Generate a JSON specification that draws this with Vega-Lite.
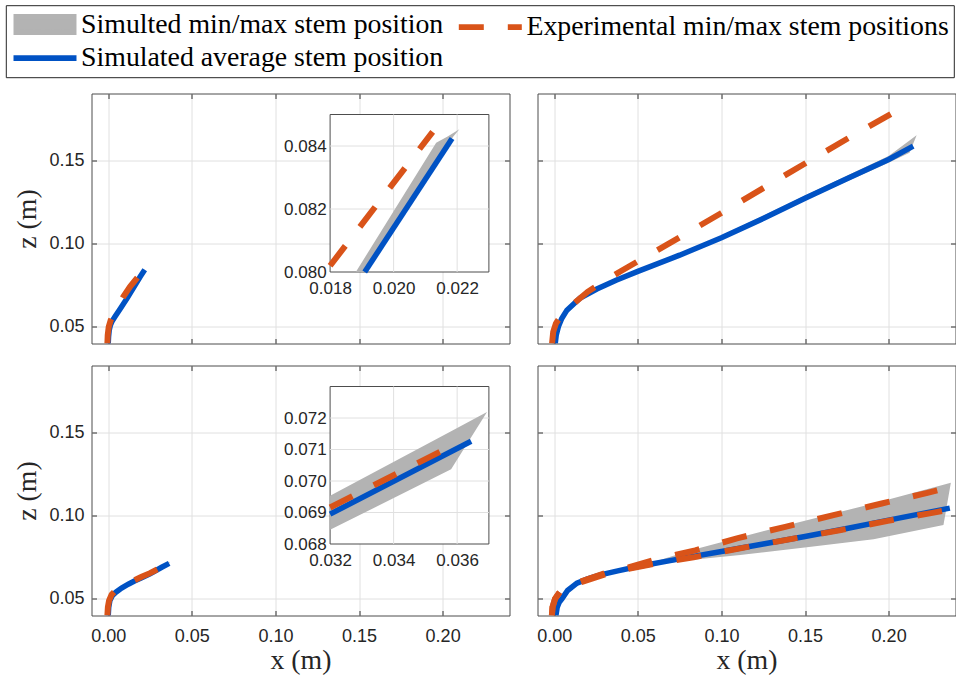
{
"$schema": "https://vega.github.io/schema/vega-lite/v6.json",
"background": "white",
"padding": {"left": 4.5, "top": 4.5, "right": 0, "bottom": 0},
"autosize": {"type": "pad"},
"config": {
  "view": {"stroke": "#4d4d4d", "strokeWidth": 1},
  "axis": {"domain": false, "grid": true, "gridColor": "#e0e0e0", "gridWidth": 1, "labelFont": "Liberation Sans", "labelFontSize": 18, "labelColor": "#262626", "labelFlush": false, "labelOverlap": false, "titleFont": "Liberation Serif", "titleFontSize": 27.8, "titleFontWeight": "normal", "titleColor": "#262626", "ticks": true, "tickSize": -5, "tickColor": "#333333", "tickWidth": 1, "zindex": 0},
  "axisX": {"labelPadding": 17, "titlePadding": 1},
  "axisY": {"labelPadding": 12.4, "titlePadding": 8}
},
"datasets": {
"lines": [
{"p":"a","k":"avg","s":"Simulated average stem position","x":0.0000,"z":0.0400},
{"p":"a","k":"avg","s":"Simulated average stem position","x":0.0002,"z":0.0440},
{"p":"a","k":"avg","s":"Simulated average stem position","x":0.0006,"z":0.0480},
{"p":"a","k":"avg","s":"Simulated average stem position","x":0.0013,"z":0.0510},
{"p":"a","k":"avg","s":"Simulated average stem position","x":0.0024,"z":0.0535},
{"p":"a","k":"avg","s":"Simulated average stem position","x":0.0040,"z":0.0560},
{"p":"a","k":"avg","s":"Simulated average stem position","x":0.0070,"z":0.0605},
{"p":"a","k":"avg","s":"Simulated average stem position","x":0.0110,"z":0.0667},
{"p":"a","k":"avg","s":"Simulated average stem position","x":0.0150,"z":0.0732},
{"p":"a","k":"avg","s":"Simulated average stem position","x":0.01909,"z":0.0800},
{"p":"a","k":"avg","s":"Simulated average stem position","x":0.02184,"z":0.08424},
{"p":"a","k":"max","s":"Experimental min/max stem positions","x":-0.0005,"z":0.0400},
{"p":"a","k":"max","s":"Experimental min/max stem positions","x":-0.0003,"z":0.0450},
{"p":"a","k":"max","s":"Experimental min/max stem positions","x":0.0003,"z":0.0500},
{"p":"a","k":"max","s":"Experimental min/max stem positions","x":0.0015,"z":0.0540},
{"p":"a","k":"max","s":"Experimental min/max stem positions","x":0.0035,"z":0.0580},
{"p":"a","k":"max","s":"Experimental min/max stem positions","x":0.0060,"z":0.0625},
{"p":"a","k":"max","s":"Experimental min/max stem positions","x":0.0090,"z":0.0680},
{"p":"a","k":"max","s":"Experimental min/max stem positions","x":0.0130,"z":0.0740},
{"p":"a","k":"max","s":"Experimental min/max stem positions","x":0.0180,"z":0.0802},
{"p":"a","k":"max","s":"Experimental min/max stem positions","x":0.02123,"z":0.08445},
{"p":"b","k":"avg","s":"Simulated average stem position","x":0.0006,"z":0.0400},
{"p":"b","k":"avg","s":"Simulated average stem position","x":0.0012,"z":0.0450},
{"p":"b","k":"avg","s":"Simulated average stem position","x":0.0026,"z":0.0504},
{"p":"b","k":"avg","s":"Simulated average stem position","x":0.0045,"z":0.0550},
{"p":"b","k":"avg","s":"Simulated average stem position","x":0.0076,"z":0.0600},
{"p":"b","k":"avg","s":"Simulated average stem position","x":0.0155,"z":0.0673},
{"p":"b","k":"avg","s":"Simulated average stem position","x":0.0255,"z":0.0727},
{"p":"b","k":"avg","s":"Simulated average stem position","x":0.0370,"z":0.0780},
{"p":"b","k":"avg","s":"Simulated average stem position","x":0.0500,"z":0.0833},
{"p":"b","k":"avg","s":"Simulated average stem position","x":0.0750,"z":0.0930},
{"p":"b","k":"avg","s":"Simulated average stem position","x":0.1000,"z":0.1035},
{"p":"b","k":"avg","s":"Simulated average stem position","x":0.1250,"z":0.1150},
{"p":"b","k":"avg","s":"Simulated average stem position","x":0.1500,"z":0.1271},
{"p":"b","k":"avg","s":"Simulated average stem position","x":0.1750,"z":0.1388},
{"p":"b","k":"avg","s":"Simulated average stem position","x":0.2000,"z":0.1504},
{"p":"b","k":"avg","s":"Simulated average stem position","x":0.2147,"z":0.1584},
{"p":"b","k":"max","s":"Experimental min/max stem positions","x":-0.0013,"z":0.0400},
{"p":"b","k":"max","s":"Experimental min/max stem positions","x":-0.0006,"z":0.0470},
{"p":"b","k":"max","s":"Experimental min/max stem positions","x":0.0010,"z":0.0520},
{"p":"b","k":"max","s":"Experimental min/max stem positions","x":0.0040,"z":0.0565},
{"p":"b","k":"max","s":"Experimental min/max stem positions","x":0.0100,"z":0.0625},
{"p":"b","k":"max","s":"Experimental min/max stem positions","x":0.0200,"z":0.0710},
{"p":"b","k":"max","s":"Experimental min/max stem positions","x":0.0300,"z":0.0775},
{"p":"b","k":"max","s":"Experimental min/max stem positions","x":0.0400,"z":0.0835},
{"p":"b","k":"max","s":"Experimental min/max stem positions","x":0.0500,"z":0.0893},
{"p":"b","k":"max","s":"Experimental min/max stem positions","x":0.0750,"z":0.1037},
{"p":"b","k":"max","s":"Experimental min/max stem positions","x":0.1000,"z":0.1183},
{"p":"b","k":"max","s":"Experimental min/max stem positions","x":0.1250,"z":0.1332},
{"p":"b","k":"max","s":"Experimental min/max stem positions","x":0.1500,"z":0.1480},
{"p":"b","k":"max","s":"Experimental min/max stem positions","x":0.1750,"z":0.1627},
{"p":"b","k":"max","s":"Experimental min/max stem positions","x":0.2036,"z":0.1790},
{"p":"c","k":"avg","s":"Simulated average stem position","x":0.0000,"z":0.0400},
{"p":"c","k":"avg","s":"Simulated average stem position","x":0.0003,"z":0.0450},
{"p":"c","k":"avg","s":"Simulated average stem position","x":0.0010,"z":0.0490},
{"p":"c","k":"avg","s":"Simulated average stem position","x":0.0025,"z":0.0520},
{"p":"c","k":"avg","s":"Simulated average stem position","x":0.0046,"z":0.0540},
{"p":"c","k":"avg","s":"Simulated average stem position","x":0.0080,"z":0.0565},
{"p":"c","k":"avg","s":"Simulated average stem position","x":0.0120,"z":0.0588},
{"p":"c","k":"avg","s":"Simulated average stem position","x":0.0160,"z":0.0608},
{"p":"c","k":"avg","s":"Simulated average stem position","x":0.0200,"z":0.0627},
{"p":"c","k":"avg","s":"Simulated average stem position","x":0.0250,"z":0.0650},
{"p":"c","k":"avg","s":"Simulated average stem position","x":0.0320,"z":0.06895},
{"p":"c","k":"avg","s":"Simulated average stem position","x":0.03644,"z":0.07126},
{"p":"c","k":"max","s":"Experimental min/max stem positions","x":-0.0005,"z":0.0400},
{"p":"c","k":"max","s":"Experimental min/max stem positions","x":-0.0002,"z":0.0450},
{"p":"c","k":"max","s":"Experimental min/max stem positions","x":0.0005,"z":0.0490},
{"p":"c","k":"max","s":"Experimental min/max stem positions","x":0.0020,"z":0.0525},
{"p":"c","k":"max","s":"Experimental min/max stem positions","x":0.0040,"z":0.0545},
{"p":"c","k":"max","s":"Experimental min/max stem positions","x":0.0080,"z":0.0572},
{"p":"c","k":"max","s":"Experimental min/max stem positions","x":0.0120,"z":0.0594},
{"p":"c","k":"max","s":"Experimental min/max stem positions","x":0.0160,"z":0.0613},
{"p":"c","k":"max","s":"Experimental min/max stem positions","x":0.0200,"z":0.0632},
{"p":"c","k":"max","s":"Experimental min/max stem positions","x":0.0250,"z":0.0654},
{"p":"c","k":"max","s":"Experimental min/max stem positions","x":0.0320,"z":0.06916},
{"p":"c","k":"max","s":"Experimental min/max stem positions","x":0.0355,"z":0.07095},
{"p":"d","k":"avg","s":"Simulated average stem position","x":0.0010,"z":0.0400},
{"p":"d","k":"avg","s":"Simulated average stem position","x":0.0018,"z":0.0450},
{"p":"d","k":"avg","s":"Simulated average stem position","x":0.0030,"z":0.0480},
{"p":"d","k":"avg","s":"Simulated average stem position","x":0.0046,"z":0.0500},
{"p":"d","k":"avg","s":"Simulated average stem position","x":0.0080,"z":0.0550},
{"p":"d","k":"avg","s":"Simulated average stem position","x":0.0136,"z":0.0594},
{"p":"d","k":"avg","s":"Simulated average stem position","x":0.0200,"z":0.0620},
{"p":"d","k":"avg","s":"Simulated average stem position","x":0.0276,"z":0.0644},
{"p":"d","k":"avg","s":"Simulated average stem position","x":0.0380,"z":0.0668},
{"p":"d","k":"avg","s":"Simulated average stem position","x":0.0500,"z":0.0694},
{"p":"d","k":"avg","s":"Simulated average stem position","x":0.0750,"z":0.0740},
{"p":"d","k":"avg","s":"Simulated average stem position","x":0.1000,"z":0.0784},
{"p":"d","k":"avg","s":"Simulated average stem position","x":0.1250,"z":0.0829},
{"p":"d","k":"avg","s":"Simulated average stem position","x":0.1500,"z":0.0874},
{"p":"d","k":"avg","s":"Simulated average stem position","x":0.1750,"z":0.0922},
{"p":"d","k":"avg","s":"Simulated average stem position","x":0.2000,"z":0.0972},
{"p":"d","k":"avg","s":"Simulated average stem position","x":0.2366,"z":0.1044},
{"p":"d","k":"max","s":"Experimental min/max stem positions","x":-0.0014,"z":0.0400},
{"p":"d","k":"max","s":"Experimental min/max stem positions","x":-0.0010,"z":0.0450},
{"p":"d","k":"max","s":"Experimental min/max stem positions","x":0.0005,"z":0.0500},
{"p":"d","k":"max","s":"Experimental min/max stem positions","x":0.0036,"z":0.0544},
{"p":"d","k":"max","s":"Experimental min/max stem positions","x":0.0100,"z":0.0580},
{"p":"d","k":"max","s":"Experimental min/max stem positions","x":0.0166,"z":0.0606},
{"p":"d","k":"max","s":"Experimental min/max stem positions","x":0.0310,"z":0.0656},
{"p":"d","k":"max","s":"Experimental min/max stem positions","x":0.0444,"z":0.0688},
{"p":"d","k":"max","s":"Experimental min/max stem positions","x":0.0604,"z":0.0735},
{"p":"d","k":"max","s":"Experimental min/max stem positions","x":0.0843,"z":0.0791},
{"p":"d","k":"max","s":"Experimental min/max stem positions","x":0.1093,"z":0.0863},
{"p":"d","k":"max","s":"Experimental min/max stem positions","x":0.1382,"z":0.0932},
{"p":"d","k":"max","s":"Experimental min/max stem positions","x":0.1670,"z":0.1002},
{"p":"d","k":"max","s":"Experimental min/max stem positions","x":0.1959,"z":0.1072},
{"p":"d","k":"max","s":"Experimental min/max stem positions","x":0.2232,"z":0.1136},
{"p":"d","k":"max","s":"Experimental min/max stem positions","x":0.2296,"z":0.1152},
{"p":"d","k":"min","s":"Experimental min/max stem positions","x":-0.0014,"z":0.0400},
{"p":"d","k":"min","s":"Experimental min/max stem positions","x":-0.0010,"z":0.0450},
{"p":"d","k":"min","s":"Experimental min/max stem positions","x":0.0005,"z":0.0500},
{"p":"d","k":"min","s":"Experimental min/max stem positions","x":0.0036,"z":0.0544},
{"p":"d","k":"min","s":"Experimental min/max stem positions","x":0.0100,"z":0.0577},
{"p":"d","k":"min","s":"Experimental min/max stem positions","x":0.0166,"z":0.0601},
{"p":"d","k":"min","s":"Experimental min/max stem positions","x":0.0310,"z":0.0649},
{"p":"d","k":"min","s":"Experimental min/max stem positions","x":0.0444,"z":0.0680},
{"p":"d","k":"min","s":"Experimental min/max stem positions","x":0.0604,"z":0.0712},
{"p":"d","k":"min","s":"Experimental min/max stem positions","x":0.0833,"z":0.0749},
{"p":"d","k":"min","s":"Experimental min/max stem positions","x":0.1112,"z":0.0803},
{"p":"d","k":"min","s":"Experimental min/max stem positions","x":0.1406,"z":0.0857},
{"p":"d","k":"min","s":"Experimental min/max stem positions","x":0.1706,"z":0.0911},
{"p":"d","k":"min","s":"Experimental min/max stem positions","x":0.1995,"z":0.0968},
{"p":"d","k":"min","s":"Experimental min/max stem positions","x":0.2262,"z":0.1016},
{"p":"d","k":"min","s":"Experimental min/max stem positions","x":0.2326,"z":0.1028}
],
"band": [
{"p":"a","s":"Simulted min/max stem position","z":0.0400,"lo":-0.0002,"hi":0.0000},
{"p":"a","s":"Simulted min/max stem position","z":0.0480,"lo":0.0003,"hi":0.0006},
{"p":"a","s":"Simulted min/max stem position","z":0.0535,"lo":0.0021,"hi":0.0024},
{"p":"a","s":"Simulted min/max stem position","z":0.0605,"lo":0.0067,"hi":0.0070},
{"p":"a","s":"Simulted min/max stem position","z":0.0667,"lo":0.0107,"hi":0.0110},
{"p":"a","s":"Simulted min/max stem position","z":0.0732,"lo":0.0147,"hi":0.0150},
{"p":"a","s":"Simulted min/max stem position","z":0.0800,"lo":0.01881,"hi":0.01909},
{"p":"a","s":"Simulted min/max stem position","z":0.0841,"lo":0.02134,"hi":0.02175},
{"p":"a","s":"Simulted min/max stem position","z":0.0843,"lo":0.02170,"hi":0.02188},
{"p":"a","s":"Simulted min/max stem position","z":0.08453,"lo":0.02207,"hi":0.02207},
{"p":"b","s":"Simulted min/max stem position","x":0.0050,"lo":0.0553,"hi":0.0562},
{"p":"b","s":"Simulted min/max stem position","x":0.0200,"lo":0.0700,"hi":0.0709},
{"p":"b","s":"Simulted min/max stem position","x":0.0500,"lo":0.0828,"hi":0.0839},
{"p":"b","s":"Simulted min/max stem position","x":0.1000,"lo":0.1027,"hi":0.1047},
{"p":"b","s":"Simulted min/max stem position","x":0.1500,"lo":0.1259,"hi":0.1288},
{"p":"b","s":"Simulted min/max stem position","x":0.2000,"lo":0.1484,"hi":0.1525},
{"p":"b","s":"Simulted min/max stem position","x":0.2125,"lo":0.1545,"hi":0.1618},
{"p":"b","s":"Simulted min/max stem position","x":0.2167,"lo":0.1648,"hi":0.1649},
{"p":"c","s":"Simulted min/max stem position","x":0.0020,"lo":0.0508,"hi":0.0515},
{"p":"c","s":"Simulted min/max stem position","x":0.0080,"lo":0.0562,"hi":0.0569},
{"p":"c","s":"Simulted min/max stem position","x":0.0160,"lo":0.0604,"hi":0.0612},
{"p":"c","s":"Simulted min/max stem position","x":0.0250,"lo":0.0645,"hi":0.0655},
{"p":"c","s":"Simulted min/max stem position","x":0.0320,"lo":0.06845,"hi":0.06953},
{"p":"c","s":"Simulted min/max stem position","x":0.03581,"lo":0.07037,"hi":0.07158},
{"p":"c","s":"Simulted min/max stem position","x":0.03694,"lo":0.07219,"hi":0.07219},
{"p":"d","s":"Simulted min/max stem position","x":0.0020,"lo":0.0455,"hi":0.0468},
{"p":"d","s":"Simulted min/max stem position","x":0.0080,"lo":0.0545,"hi":0.0555},
{"p":"d","s":"Simulted min/max stem position","x":0.0200,"lo":0.0615,"hi":0.0625},
{"p":"d","s":"Simulted min/max stem position","x":0.0400,"lo":0.0668,"hi":0.0678},
{"p":"d","s":"Simulted min/max stem position","x":0.0600,"lo":0.0703,"hi":0.0722},
{"p":"d","s":"Simulted min/max stem position","x":0.0813,"lo":0.0733,"hi":0.0790},
{"p":"d","s":"Simulted min/max stem position","x":0.1112,"lo":0.0763,"hi":0.0870},
{"p":"d","s":"Simulted min/max stem position","x":0.1511,"lo":0.0809,"hi":0.0972},
{"p":"d","s":"Simulted min/max stem position","x":0.1910,"lo":0.0857,"hi":0.1072},
{"p":"d","s":"Simulted min/max stem position","x":0.2328,"lo":0.0943,"hi":0.1184},
{"p":"d","s":"Simulted min/max stem position","x":0.2372,"lo":0.1195,"hi":0.1196}
]
},
"columns": 2,
"spacing": {"row": 22, "column": 28},
"bounds": "flush",
"concat": [
{
 "width": 418, "height": 250,
 "resolve": {"scale": {"x": "independent", "y": "independent"}},
 "layer": [
  {"encoding": {
     "x": {"field": "x", "type": "quantitative", "scale": {"domain": [-0.01, 0.24], "nice": false, "zero": false}, "axis": {"values": [0, 0.05, 0.1, 0.15, 0.2], "labels": false, "title": null}},
     "y": {"field": "z", "type": "quantitative", "scale": {"domain": [0.04, 0.19], "nice": false, "zero": false}, "axis": {"values": [0.05, 0.1, 0.15], "format": ".2f", "title": "z (m)"}}
   },
   "layer": [
   {"data": {"name": "band"}, "transform": [{"filter": "datum.p == 'a'"}],
    "mark": {"type": "area", "orient": "horizontal", "clip": true, "opacity": 1},
    "encoding": {
     "x": {"field": "lo", "type": "quantitative", "scale": {"domain": [-0.01, 0.24], "nice": false, "zero": false}, "axis": {"values": [0, 0.05, 0.1, 0.15, 0.2], "labels": false, "title": null}},
     "x2": {"field": "hi"},
     "color": {"field": "s", "type": "nominal", "scale": {"domain": ["Simulted min/max stem position", "Experimental min/max stem positions", "Simulated average stem position"], "range": ["#b3b3b3", "#d95319", "#0052c4"]},
      "legend": {"title": null, "orient": "none", "direction": "horizontal", "legendX": -85.7, "legendY": -88.3, "columns": 2, "symbolSize": 441, "symbolOffset": 20.3, "labelOffset": 22.2, "padding": 5, "rowPadding": -12, "columnPadding": 3.3, "strokeColor": "#262626", "fillColor": "#ffffff", "labelFont": "Liberation Serif", "labelFontSize": 27.8, "labelColor": "#000000", "labelLimit": 1000, "symbolOpacity": 1, "symbolStrokeWidth": 5.75}}
    }},
   {"data": {"name": "lines"}, "transform": [{"filter": "datum.p == 'a' && datum.k == 'avg'"}],
    "mark": {"type": "line", "clip": true, "strokeWidth": 5.5, "strokeCap": "butt"},
    "encoding": {
     "color": {"field": "s", "type": "nominal", "scale": {"domain": ["Simulted min/max stem position", "Experimental min/max stem positions", "Simulated average stem position"], "range": ["#b3b3b3", "#d95319", "#0052c4"]},
      "legend": {"title": null, "orient": "none", "direction": "horizontal", "legendX": -85.7, "legendY": -88.3, "columns": 2, "symbolSize": 441, "symbolOffset": 20.3, "labelOffset": 22.2, "padding": 5, "rowPadding": -12, "columnPadding": 3.3, "strokeColor": "#262626", "fillColor": "#ffffff", "labelFont": "Liberation Serif", "labelFontSize": 27.8, "labelColor": "#000000", "labelLimit": 1000, "symbolOpacity": 1, "symbolStrokeWidth": 5.75}}
    }},
   {"data": {"name": "lines"}, "transform": [{"filter": "datum.p == 'a' && datum.k != 'avg'"}],
    "mark": {"type": "line", "clip": true, "strokeWidth": 6, "strokeCap": "butt"},
    "encoding": {
     "detail": {"field": "k"},
     "color": {"field": "s", "type": "nominal", "scale": {"domain": ["Simulted min/max stem position", "Experimental min/max stem positions", "Simulated average stem position"], "range": ["#b3b3b3", "#d95319", "#0052c4"]},
      "legend": {"title": null, "orient": "none", "direction": "horizontal", "legendX": -85.7, "legendY": -88.3, "columns": 2, "symbolSize": 441, "symbolOffset": 20.3, "labelOffset": 22.2, "padding": 5, "rowPadding": -12, "columnPadding": 3.3, "strokeColor": "#262626", "fillColor": "#ffffff", "labelFont": "Liberation Serif", "labelFontSize": 27.8, "labelColor": "#000000", "labelLimit": 1000, "symbolOpacity": 1, "symbolStrokeWidth": 5.75}},
     "strokeDash": {"field": "s", "type": "nominal", "scale": {"domain": ["Simulted min/max stem position", "Experimental min/max stem positions", "Simulated average stem position"], "range": [[1, 0], [25, 24], [1, 0]]},
      "legend": {"title": null, "orient": "none", "direction": "horizontal", "legendX": -85.7, "legendY": -88.3, "columns": 2, "symbolSize": 441, "symbolOffset": 20.3, "labelOffset": 22.2, "padding": 5, "rowPadding": -12, "columnPadding": 3.3, "strokeColor": "#262626", "fillColor": "#ffffff", "labelFont": "Liberation Serif", "labelFontSize": 27.8, "labelColor": "#000000", "labelLimit": 1000, "symbolOpacity": 1, "symbolStrokeWidth": 5.75}}
    }},
   {"data": {"values": []},
    "mark": {"type": "point", "opacity": 1},
    "encoding": {
     "shape": {"field": "s", "type": "nominal", "scale": {"domain": ["Simulted min/max stem position", "Experimental min/max stem positions", "Simulated average stem position"], "range": ["M-2.726,-0.726H2.726V0.726H-2.726Z", "M-3,0H3", "M-3,0H3"]},
      "legend": {"title": null, "orient": "none", "direction": "horizontal", "legendX": -85.7, "legendY": -88.3, "columns": 2, "symbolSize": 441, "symbolOffset": 20.3, "labelOffset": 22.2, "padding": 5, "rowPadding": -12, "columnPadding": 3.3, "strokeColor": "#262626", "fillColor": "#ffffff", "labelFont": "Liberation Serif", "labelFontSize": 27.8, "labelColor": "#000000", "labelLimit": 1000, "symbolOpacity": 1, "symbolStrokeWidth": 5.75}}
    }},
   {"data": {"values": [{"t": "(a)"}]},
    "mark": {"type": "text", "align": "left", "baseline": "alphabetic", "font": "Liberation Serif", "fontSize": 27.8, "color": "#000000"},
    "encoding": {
     "x": {"datum": -0.0031, "type": "quantitative", "scale": {"domain": [-0.01, 0.24], "nice": false, "zero": false}, "axis": {"values": [0, 0.05, 0.1, 0.15, 0.2], "labels": false, "title": null}},
     "y": {"datum": 0.1704, "type": "quantitative", "scale": {"domain": [0.04, 0.19], "nice": false, "zero": false}, "axis": {"values": [0.05, 0.1, 0.15], "format": ".2f", "title": "z (m)"}},
     "text": {"field": "t"}}}
  ]},
  {"data": {"values": []}, "mark": {"type": "point"},
   "encoding": {
    "x": {"field": "x", "type": "quantitative", "scale": {"domain": [-0.01, 0.24], "nice": false, "zero": false}, "axis": {"orient": "top", "values": [0, 0.05, 0.1, 0.15, 0.2], "labels": false, "grid": false, "title": null}},
    "y": {"field": "z", "type": "quantitative", "scale": {"domain": [0.04, 0.19], "nice": false, "zero": false}, "axis": {"orient": "right", "values": [0.05, 0.1, 0.15], "labels": false, "grid": false, "title": null}}
   }},
  {"layer": [
   {"data": {"values": [{}]},
    "mark": {"type": "rect", "fill": "#ffffff", "stroke": "#4d4d4d", "strokeWidth": 1},
    "encoding": {
     "x": {"datum": 0.018, "type": "quantitative", "scale": {"domain": [0.018, 0.023], "range": [238.6, 397.4], "nice": false, "zero": false}, "axis": {"values": [0.018, 0.020, 0.022], "format": ".3f", "orient": "bottom", "offset": -71.5, "grid": false, "ticks": false, "title": null, "labelFontSize": 17, "labelPadding": 8, "zindex": 1}},
     "x2": {"datum": 0.023},
     "y": {"datum": 0.080, "type": "quantitative", "scale": {"domain": [0.080, 0.085], "range": [178.5, 21], "nice": false, "zero": false}, "axis": {"values": [0.080, 0.082, 0.084], "format": ".3f", "orient": "left", "offset": -238.6, "grid": false, "ticks": false, "title": null, "labelFontSize": 17, "labelPadding": 4, "zindex": 1}},
     "y2": {"datum": 0.085}
    }},
   {"data": {"values": [{}]}, "mark": {"type": "rule", "color": "#e0e0e0", "strokeWidth": 1},
    "encoding": {
     "x": {"datum": 0.020, "type": "quantitative", "scale": {"domain": [0.018, 0.023], "range": [238.6, 397.4], "nice": false, "zero": false}, "axis": {"values": [0.018, 0.020, 0.022], "format": ".3f", "orient": "bottom", "offset": -71.5, "grid": false, "ticks": false, "title": null, "labelFontSize": 17, "labelPadding": 8, "zindex": 1}},
     "y": {"datum": 0.080, "type": "quantitative", "scale": {"domain": [0.080, 0.085], "range": [178.5, 21], "nice": false, "zero": false}, "axis": {"values": [0.080, 0.082, 0.084], "format": ".3f", "orient": "left", "offset": -238.6, "grid": false, "ticks": false, "title": null, "labelFontSize": 17, "labelPadding": 4, "zindex": 1}},
     "y2": {"datum": 0.085}}},
   {"data": {"values": [{}]}, "mark": {"type": "rule", "color": "#e0e0e0", "strokeWidth": 1},
    "encoding": {
     "x": {"datum": 0.022, "type": "quantitative", "scale": {"domain": [0.018, 0.023], "range": [238.6, 397.4], "nice": false, "zero": false}, "axis": {"values": [0.018, 0.020, 0.022], "format": ".3f", "orient": "bottom", "offset": -71.5, "grid": false, "ticks": false, "title": null, "labelFontSize": 17, "labelPadding": 8, "zindex": 1}},
     "y": {"datum": 0.080, "type": "quantitative", "scale": {"domain": [0.080, 0.085], "range": [178.5, 21], "nice": false, "zero": false}, "axis": {"values": [0.080, 0.082, 0.084], "format": ".3f", "orient": "left", "offset": -238.6, "grid": false, "ticks": false, "title": null, "labelFontSize": 17, "labelPadding": 4, "zindex": 1}},
     "y2": {"datum": 0.085}}},
   {"data": {"values": [{}]}, "mark": {"type": "rule", "color": "#e0e0e0", "strokeWidth": 1},
    "encoding": {
     "y": {"datum": 0.082, "type": "quantitative", "scale": {"domain": [0.080, 0.085], "range": [178.5, 21], "nice": false, "zero": false}, "axis": {"values": [0.080, 0.082, 0.084], "format": ".3f", "orient": "left", "offset": -238.6, "grid": false, "ticks": false, "title": null, "labelFontSize": 17, "labelPadding": 4, "zindex": 1}},
     "x": {"datum": 0.018, "type": "quantitative", "scale": {"domain": [0.018, 0.023], "range": [238.6, 397.4], "nice": false, "zero": false}, "axis": {"values": [0.018, 0.020, 0.022], "format": ".3f", "orient": "bottom", "offset": -71.5, "grid": false, "ticks": false, "title": null, "labelFontSize": 17, "labelPadding": 8, "zindex": 1}},
     "x2": {"datum": 0.023}}},
   {"data": {"values": [{}]}, "mark": {"type": "rule", "color": "#e0e0e0", "strokeWidth": 1},
    "encoding": {
     "y": {"datum": 0.084, "type": "quantitative", "scale": {"domain": [0.080, 0.085], "range": [178.5, 21], "nice": false, "zero": false}, "axis": {"values": [0.080, 0.082, 0.084], "format": ".3f", "orient": "left", "offset": -238.6, "grid": false, "ticks": false, "title": null, "labelFontSize": 17, "labelPadding": 4, "zindex": 1}},
     "x": {"datum": 0.018, "type": "quantitative", "scale": {"domain": [0.018, 0.023], "range": [238.6, 397.4], "nice": false, "zero": false}, "axis": {"values": [0.018, 0.020, 0.022], "format": ".3f", "orient": "bottom", "offset": -71.5, "grid": false, "ticks": false, "title": null, "labelFontSize": 17, "labelPadding": 8, "zindex": 1}},
     "x2": {"datum": 0.023}}},
   {"data": {"name": "band"}, "transform": [{"filter": "datum.p == 'a' && datum.z >= 0.08"}],
    "mark": {"type": "area", "orient": "horizontal", "opacity": 1},
    "encoding": {
     "y": {"field": "z", "type": "quantitative", "scale": {"domain": [0.080, 0.085], "range": [178.5, 21], "nice": false, "zero": false}, "axis": {"values": [0.080, 0.082, 0.084], "format": ".3f", "orient": "left", "offset": -238.6, "grid": false, "ticks": false, "title": null, "labelFontSize": 17, "labelPadding": 4, "zindex": 1}},
     "x": {"field": "lo", "type": "quantitative", "scale": {"domain": [0.018, 0.023], "range": [238.6, 397.4], "nice": false, "zero": false}, "axis": {"values": [0.018, 0.020, 0.022], "format": ".3f", "orient": "bottom", "offset": -71.5, "grid": false, "ticks": false, "title": null, "labelFontSize": 17, "labelPadding": 8, "zindex": 1}},
     "x2": {"field": "hi"},
     "color": {"field": "s", "type": "nominal", "scale": {"domain": ["Simulted min/max stem position", "Experimental min/max stem positions", "Simulated average stem position"], "range": ["#b3b3b3", "#d95319", "#0052c4"]}, "legend": null}
    }},
   {"data": {"name": "lines"}, "transform": [{"filter": "datum.p == 'a' && datum.k == 'avg' && datum.z >= 0.08"}],
    "mark": {"type": "line", "strokeWidth": 5.5, "strokeCap": "butt"},
    "encoding": {
     "x": {"field": "x", "type": "quantitative", "scale": {"domain": [0.018, 0.023], "range": [238.6, 397.4], "nice": false, "zero": false}, "axis": {"values": [0.018, 0.020, 0.022], "format": ".3f", "orient": "bottom", "offset": -71.5, "grid": false, "ticks": false, "title": null, "labelFontSize": 17, "labelPadding": 8, "zindex": 1}},
     "y": {"field": "z", "type": "quantitative", "scale": {"domain": [0.080, 0.085], "range": [178.5, 21], "nice": false, "zero": false}, "axis": {"values": [0.080, 0.082, 0.084], "format": ".3f", "orient": "left", "offset": -238.6, "grid": false, "ticks": false, "title": null, "labelFontSize": 17, "labelPadding": 4, "zindex": 1}},
     "color": {"field": "s", "type": "nominal", "scale": {"domain": ["Simulted min/max stem position", "Experimental min/max stem positions", "Simulated average stem position"], "range": ["#b3b3b3", "#d95319", "#0052c4"]}, "legend": null}
    }},
   {"data": {"name": "lines"}, "transform": [{"filter": "datum.p == 'a' && datum.k != 'avg' && datum.z >= 0.08"}],
    "mark": {"type": "line", "strokeWidth": 6, "strokeCap": "butt"},
    "encoding": {
     "x": {"field": "x", "type": "quantitative", "scale": {"domain": [0.018, 0.023], "range": [238.6, 397.4], "nice": false, "zero": false}, "axis": {"values": [0.018, 0.020, 0.022], "format": ".3f", "orient": "bottom", "offset": -71.5, "grid": false, "ticks": false, "title": null, "labelFontSize": 17, "labelPadding": 8, "zindex": 1}},
     "y": {"field": "z", "type": "quantitative", "scale": {"domain": [0.080, 0.085], "range": [178.5, 21], "nice": false, "zero": false}, "axis": {"values": [0.080, 0.082, 0.084], "format": ".3f", "orient": "left", "offset": -238.6, "grid": false, "ticks": false, "title": null, "labelFontSize": 17, "labelPadding": 4, "zindex": 1}},
     "detail": {"field": "k"},
     "color": {"field": "s", "type": "nominal", "scale": {"domain": ["Simulted min/max stem position", "Experimental min/max stem positions", "Simulated average stem position"], "range": ["#b3b3b3", "#d95319", "#0052c4"]}, "legend": null},
     "strokeDash": {"field": "s", "type": "nominal", "scale": {"domain": ["Simulted min/max stem position", "Experimental min/max stem positions", "Simulated average stem position"], "range": [[1, 0], [25, 24], [1, 0]]}, "legend": null}
    }}
  ]}
 ]
},
{
 "width": 418, "height": 250,
 "resolve": {"scale": {"x": "independent", "y": "independent"}},
 "layer": [
  {"encoding": {
     "x": {"field": "x", "type": "quantitative", "scale": {"domain": [-0.01, 0.24], "nice": false, "zero": false}, "axis": {"values": [0, 0.05, 0.1, 0.15, 0.2], "labels": false, "title": null}},
     "y": {"field": "z", "type": "quantitative", "scale": {"domain": [0.04, 0.19], "nice": false, "zero": false}, "axis": {"values": [0.05, 0.1, 0.15], "labels": false, "title": null}}
   },
   "layer": [
   {"data": {"name": "band"}, "transform": [{"filter": "datum.p == 'b'"}],
    "mark": {"type": "area", "clip": true, "opacity": 1},
    "encoding": {
     "y": {"field": "lo", "type": "quantitative", "scale": {"domain": [0.04, 0.19], "nice": false, "zero": false}, "axis": {"values": [0.05, 0.1, 0.15], "labels": false, "title": null}},
     "y2": {"field": "hi"},
     "color": {"field": "s", "type": "nominal", "scale": {"domain": ["Simulted min/max stem position", "Experimental min/max stem positions", "Simulated average stem position"], "range": ["#b3b3b3", "#d95319", "#0052c4"]}, "legend": null}
    }},
   {"data": {"name": "lines"}, "transform": [{"filter": "datum.p == 'b' && datum.k == 'avg'"}],
    "mark": {"type": "line", "clip": true, "strokeWidth": 5.5, "strokeCap": "butt"},
    "encoding": {
     "color": {"field": "s", "type": "nominal", "scale": {"domain": ["Simulted min/max stem position", "Experimental min/max stem positions", "Simulated average stem position"], "range": ["#b3b3b3", "#d95319", "#0052c4"]}, "legend": null}
    }},
   {"data": {"name": "lines"}, "transform": [{"filter": "datum.p == 'b' && datum.k != 'avg'"}],
    "mark": {"type": "line", "clip": true, "strokeWidth": 6, "strokeCap": "butt"},
    "encoding": {
     "detail": {"field": "k"},
     "color": {"field": "s", "type": "nominal", "scale": {"domain": ["Simulted min/max stem position", "Experimental min/max stem positions", "Simulated average stem position"], "range": ["#b3b3b3", "#d95319", "#0052c4"]}, "legend": null},
     "strokeDash": {"field": "s", "type": "nominal", "scale": {"domain": ["Simulted min/max stem position", "Experimental min/max stem positions", "Simulated average stem position"], "range": [[1, 0], [25, 24], [1, 0]]}, "legend": null}
    }},
   {"data": {"values": [{"t": "(b)"}]},
    "mark": {"type": "text", "align": "left", "baseline": "alphabetic", "font": "Liberation Serif", "fontSize": 27.8, "color": "#000000"},
    "encoding": {
     "x": {"datum": -0.0031, "type": "quantitative", "scale": {"domain": [-0.01, 0.24], "nice": false, "zero": false}, "axis": {"values": [0, 0.05, 0.1, 0.15, 0.2], "labels": false, "title": null}},
     "y": {"datum": 0.1704, "type": "quantitative", "scale": {"domain": [0.04, 0.19], "nice": false, "zero": false}, "axis": {"values": [0.05, 0.1, 0.15], "labels": false, "title": null}},
     "text": {"field": "t"}}}
  ]},
  {"data": {"values": []}, "mark": {"type": "point"},
   "encoding": {
    "x": {"field": "x", "type": "quantitative", "scale": {"domain": [-0.01, 0.24], "nice": false, "zero": false}, "axis": {"orient": "top", "values": [0, 0.05, 0.1, 0.15, 0.2], "labels": false, "grid": false, "title": null}},
    "y": {"field": "z", "type": "quantitative", "scale": {"domain": [0.04, 0.19], "nice": false, "zero": false}, "axis": {"orient": "right", "values": [0.05, 0.1, 0.15], "labels": false, "grid": false, "title": null}}
   }}
 ]
},
{
 "width": 418, "height": 250,
 "resolve": {"scale": {"x": "independent", "y": "independent"}},
 "layer": [
  {"encoding": {
     "x": {"field": "x", "type": "quantitative", "scale": {"domain": [-0.01, 0.24], "nice": false, "zero": false}, "axis": {"values": [0, 0.05, 0.1, 0.15, 0.2], "format": ".2f", "title": "x (m)"}},
     "y": {"field": "z", "type": "quantitative", "scale": {"domain": [0.04, 0.19], "nice": false, "zero": false}, "axis": {"values": [0.05, 0.1, 0.15], "format": ".2f", "title": "z (m)"}}
   },
   "layer": [
   {"data": {"name": "band"}, "transform": [{"filter": "datum.p == 'c'"}],
    "mark": {"type": "area", "clip": true, "opacity": 1},
    "encoding": {
     "y": {"field": "lo", "type": "quantitative", "scale": {"domain": [0.04, 0.19], "nice": false, "zero": false}, "axis": {"values": [0.05, 0.1, 0.15], "format": ".2f", "title": "z (m)"}},
     "y2": {"field": "hi"},
     "color": {"field": "s", "type": "nominal", "scale": {"domain": ["Simulted min/max stem position", "Experimental min/max stem positions", "Simulated average stem position"], "range": ["#b3b3b3", "#d95319", "#0052c4"]}, "legend": null}
    }},
   {"data": {"name": "lines"}, "transform": [{"filter": "datum.p == 'c' && datum.k == 'avg'"}],
    "mark": {"type": "line", "clip": true, "strokeWidth": 5.5, "strokeCap": "butt"},
    "encoding": {
     "color": {"field": "s", "type": "nominal", "scale": {"domain": ["Simulted min/max stem position", "Experimental min/max stem positions", "Simulated average stem position"], "range": ["#b3b3b3", "#d95319", "#0052c4"]}, "legend": null}
    }},
   {"data": {"name": "lines"}, "transform": [{"filter": "datum.p == 'c' && datum.k != 'avg'"}],
    "mark": {"type": "line", "clip": true, "strokeWidth": 6, "strokeCap": "butt"},
    "encoding": {
     "detail": {"field": "k"},
     "color": {"field": "s", "type": "nominal", "scale": {"domain": ["Simulted min/max stem position", "Experimental min/max stem positions", "Simulated average stem position"], "range": ["#b3b3b3", "#d95319", "#0052c4"]}, "legend": null},
     "strokeDash": {"field": "s", "type": "nominal", "scale": {"domain": ["Simulted min/max stem position", "Experimental min/max stem positions", "Simulated average stem position"], "range": [[1, 0], [25, 24], [1, 0]]}, "legend": null}
    }},
   {"data": {"values": [{"t": "(c)"}]},
    "mark": {"type": "text", "align": "left", "baseline": "alphabetic", "font": "Liberation Serif", "fontSize": 27.8, "color": "#000000"},
    "encoding": {
     "x": {"datum": -0.0031, "type": "quantitative", "scale": {"domain": [-0.01, 0.24], "nice": false, "zero": false}, "axis": {"values": [0, 0.05, 0.1, 0.15, 0.2], "format": ".2f", "title": "x (m)"}},
     "y": {"datum": 0.1704, "type": "quantitative", "scale": {"domain": [0.04, 0.19], "nice": false, "zero": false}, "axis": {"values": [0.05, 0.1, 0.15], "format": ".2f", "title": "z (m)"}},
     "text": {"field": "t"}}}
  ]},
  {"data": {"values": []}, "mark": {"type": "point"},
   "encoding": {
    "x": {"field": "x", "type": "quantitative", "scale": {"domain": [-0.01, 0.24], "nice": false, "zero": false}, "axis": {"orient": "top", "values": [0, 0.05, 0.1, 0.15, 0.2], "labels": false, "grid": false, "title": null}},
    "y": {"field": "z", "type": "quantitative", "scale": {"domain": [0.04, 0.19], "nice": false, "zero": false}, "axis": {"orient": "right", "values": [0.05, 0.1, 0.15], "labels": false, "grid": false, "title": null}}
   }},
  {"layer": [
   {"data": {"values": [{}]},
    "mark": {"type": "rect", "fill": "#ffffff", "stroke": "#4d4d4d", "strokeWidth": 1},
    "encoding": {
     "x": {"datum": 0.032, "type": "quantitative", "scale": {"domain": [0.032, 0.037], "range": [238.6, 397.4], "nice": false, "zero": false}, "axis": {"values": [0.032, 0.034, 0.036], "format": ".3f", "orient": "bottom", "offset": -71.5, "grid": false, "ticks": false, "title": null, "labelFontSize": 17, "labelPadding": 8, "zindex": 1}},
     "x2": {"datum": 0.037},
     "y": {"datum": 0.068, "type": "quantitative", "scale": {"domain": [0.068, 0.073], "range": [178.5, 21], "nice": false, "zero": false}, "axis": {"values": [0.068, 0.069, 0.070, 0.071, 0.072], "format": ".3f", "orient": "left", "offset": -238.6, "grid": false, "ticks": false, "title": null, "labelFontSize": 17, "labelPadding": 4, "zindex": 1}},
     "y2": {"datum": 0.073}
    }},
   {"data": {"values": [{}]}, "mark": {"type": "rule", "color": "#e0e0e0", "strokeWidth": 1},
    "encoding": {
     "x": {"datum": 0.034, "type": "quantitative", "scale": {"domain": [0.032, 0.037], "range": [238.6, 397.4], "nice": false, "zero": false}, "axis": {"values": [0.032, 0.034, 0.036], "format": ".3f", "orient": "bottom", "offset": -71.5, "grid": false, "ticks": false, "title": null, "labelFontSize": 17, "labelPadding": 8, "zindex": 1}},
     "y": {"datum": 0.068, "type": "quantitative", "scale": {"domain": [0.068, 0.073], "range": [178.5, 21], "nice": false, "zero": false}, "axis": {"values": [0.068, 0.069, 0.070, 0.071, 0.072], "format": ".3f", "orient": "left", "offset": -238.6, "grid": false, "ticks": false, "title": null, "labelFontSize": 17, "labelPadding": 4, "zindex": 1}},
     "y2": {"datum": 0.073}}},
   {"data": {"values": [{}]}, "mark": {"type": "rule", "color": "#e0e0e0", "strokeWidth": 1},
    "encoding": {
     "x": {"datum": 0.036, "type": "quantitative", "scale": {"domain": [0.032, 0.037], "range": [238.6, 397.4], "nice": false, "zero": false}, "axis": {"values": [0.032, 0.034, 0.036], "format": ".3f", "orient": "bottom", "offset": -71.5, "grid": false, "ticks": false, "title": null, "labelFontSize": 17, "labelPadding": 8, "zindex": 1}},
     "y": {"datum": 0.068, "type": "quantitative", "scale": {"domain": [0.068, 0.073], "range": [178.5, 21], "nice": false, "zero": false}, "axis": {"values": [0.068, 0.069, 0.070, 0.071, 0.072], "format": ".3f", "orient": "left", "offset": -238.6, "grid": false, "ticks": false, "title": null, "labelFontSize": 17, "labelPadding": 4, "zindex": 1}},
     "y2": {"datum": 0.073}}},
   {"data": {"values": [{}]}, "mark": {"type": "rule", "color": "#e0e0e0", "strokeWidth": 1},
    "encoding": {
     "y": {"datum": 0.069, "type": "quantitative", "scale": {"domain": [0.068, 0.073], "range": [178.5, 21], "nice": false, "zero": false}, "axis": {"values": [0.068, 0.069, 0.070, 0.071, 0.072], "format": ".3f", "orient": "left", "offset": -238.6, "grid": false, "ticks": false, "title": null, "labelFontSize": 17, "labelPadding": 4, "zindex": 1}},
     "x": {"datum": 0.032, "type": "quantitative", "scale": {"domain": [0.032, 0.037], "range": [238.6, 397.4], "nice": false, "zero": false}, "axis": {"values": [0.032, 0.034, 0.036], "format": ".3f", "orient": "bottom", "offset": -71.5, "grid": false, "ticks": false, "title": null, "labelFontSize": 17, "labelPadding": 8, "zindex": 1}},
     "x2": {"datum": 0.037}}},
   {"data": {"values": [{}]}, "mark": {"type": "rule", "color": "#e0e0e0", "strokeWidth": 1},
    "encoding": {
     "y": {"datum": 0.070, "type": "quantitative", "scale": {"domain": [0.068, 0.073], "range": [178.5, 21], "nice": false, "zero": false}, "axis": {"values": [0.068, 0.069, 0.070, 0.071, 0.072], "format": ".3f", "orient": "left", "offset": -238.6, "grid": false, "ticks": false, "title": null, "labelFontSize": 17, "labelPadding": 4, "zindex": 1}},
     "x": {"datum": 0.032, "type": "quantitative", "scale": {"domain": [0.032, 0.037], "range": [238.6, 397.4], "nice": false, "zero": false}, "axis": {"values": [0.032, 0.034, 0.036], "format": ".3f", "orient": "bottom", "offset": -71.5, "grid": false, "ticks": false, "title": null, "labelFontSize": 17, "labelPadding": 8, "zindex": 1}},
     "x2": {"datum": 0.037}}},
   {"data": {"values": [{}]}, "mark": {"type": "rule", "color": "#e0e0e0", "strokeWidth": 1},
    "encoding": {
     "y": {"datum": 0.071, "type": "quantitative", "scale": {"domain": [0.068, 0.073], "range": [178.5, 21], "nice": false, "zero": false}, "axis": {"values": [0.068, 0.069, 0.070, 0.071, 0.072], "format": ".3f", "orient": "left", "offset": -238.6, "grid": false, "ticks": false, "title": null, "labelFontSize": 17, "labelPadding": 4, "zindex": 1}},
     "x": {"datum": 0.032, "type": "quantitative", "scale": {"domain": [0.032, 0.037], "range": [238.6, 397.4], "nice": false, "zero": false}, "axis": {"values": [0.032, 0.034, 0.036], "format": ".3f", "orient": "bottom", "offset": -71.5, "grid": false, "ticks": false, "title": null, "labelFontSize": 17, "labelPadding": 8, "zindex": 1}},
     "x2": {"datum": 0.037}}},
   {"data": {"values": [{}]}, "mark": {"type": "rule", "color": "#e0e0e0", "strokeWidth": 1},
    "encoding": {
     "y": {"datum": 0.072, "type": "quantitative", "scale": {"domain": [0.068, 0.073], "range": [178.5, 21], "nice": false, "zero": false}, "axis": {"values": [0.068, 0.069, 0.070, 0.071, 0.072], "format": ".3f", "orient": "left", "offset": -238.6, "grid": false, "ticks": false, "title": null, "labelFontSize": 17, "labelPadding": 4, "zindex": 1}},
     "x": {"datum": 0.032, "type": "quantitative", "scale": {"domain": [0.032, 0.037], "range": [238.6, 397.4], "nice": false, "zero": false}, "axis": {"values": [0.032, 0.034, 0.036], "format": ".3f", "orient": "bottom", "offset": -71.5, "grid": false, "ticks": false, "title": null, "labelFontSize": 17, "labelPadding": 8, "zindex": 1}},
     "x2": {"datum": 0.037}}},
   {"data": {"name": "band"}, "transform": [{"filter": "datum.p == 'c' && datum.x >= 0.032"}],
    "mark": {"type": "area", "opacity": 1},
    "encoding": {
     "x": {"field": "x", "type": "quantitative", "scale": {"domain": [0.032, 0.037], "range": [238.6, 397.4], "nice": false, "zero": false}, "axis": {"values": [0.032, 0.034, 0.036], "format": ".3f", "orient": "bottom", "offset": -71.5, "grid": false, "ticks": false, "title": null, "labelFontSize": 17, "labelPadding": 8, "zindex": 1}},
     "y": {"field": "lo", "type": "quantitative", "scale": {"domain": [0.068, 0.073], "range": [178.5, 21], "nice": false, "zero": false}, "axis": {"values": [0.068, 0.069, 0.070, 0.071, 0.072], "format": ".3f", "orient": "left", "offset": -238.6, "grid": false, "ticks": false, "title": null, "labelFontSize": 17, "labelPadding": 4, "zindex": 1}},
     "y2": {"field": "hi"},
     "color": {"field": "s", "type": "nominal", "scale": {"domain": ["Simulted min/max stem position", "Experimental min/max stem positions", "Simulated average stem position"], "range": ["#b3b3b3", "#d95319", "#0052c4"]}, "legend": null}
    }},
   {"data": {"name": "lines"}, "transform": [{"filter": "datum.p == 'c' && datum.k == 'avg' && datum.x >= 0.032"}],
    "mark": {"type": "line", "strokeWidth": 5.5, "strokeCap": "butt"},
    "encoding": {
     "x": {"field": "x", "type": "quantitative", "scale": {"domain": [0.032, 0.037], "range": [238.6, 397.4], "nice": false, "zero": false}, "axis": {"values": [0.032, 0.034, 0.036], "format": ".3f", "orient": "bottom", "offset": -71.5, "grid": false, "ticks": false, "title": null, "labelFontSize": 17, "labelPadding": 8, "zindex": 1}},
     "y": {"field": "z", "type": "quantitative", "scale": {"domain": [0.068, 0.073], "range": [178.5, 21], "nice": false, "zero": false}, "axis": {"values": [0.068, 0.069, 0.070, 0.071, 0.072], "format": ".3f", "orient": "left", "offset": -238.6, "grid": false, "ticks": false, "title": null, "labelFontSize": 17, "labelPadding": 4, "zindex": 1}},
     "color": {"field": "s", "type": "nominal", "scale": {"domain": ["Simulted min/max stem position", "Experimental min/max stem positions", "Simulated average stem position"], "range": ["#b3b3b3", "#d95319", "#0052c4"]}, "legend": null}
    }},
   {"data": {"name": "lines"}, "transform": [{"filter": "datum.p == 'c' && datum.k != 'avg' && datum.x >= 0.032"}],
    "mark": {"type": "line", "strokeWidth": 6, "strokeCap": "butt"},
    "encoding": {
     "x": {"field": "x", "type": "quantitative", "scale": {"domain": [0.032, 0.037], "range": [238.6, 397.4], "nice": false, "zero": false}, "axis": {"values": [0.032, 0.034, 0.036], "format": ".3f", "orient": "bottom", "offset": -71.5, "grid": false, "ticks": false, "title": null, "labelFontSize": 17, "labelPadding": 8, "zindex": 1}},
     "y": {"field": "z", "type": "quantitative", "scale": {"domain": [0.068, 0.073], "range": [178.5, 21], "nice": false, "zero": false}, "axis": {"values": [0.068, 0.069, 0.070, 0.071, 0.072], "format": ".3f", "orient": "left", "offset": -238.6, "grid": false, "ticks": false, "title": null, "labelFontSize": 17, "labelPadding": 4, "zindex": 1}},
     "detail": {"field": "k"},
     "color": {"field": "s", "type": "nominal", "scale": {"domain": ["Simulted min/max stem position", "Experimental min/max stem positions", "Simulated average stem position"], "range": ["#b3b3b3", "#d95319", "#0052c4"]}, "legend": null},
     "strokeDash": {"field": "s", "type": "nominal", "scale": {"domain": ["Simulted min/max stem position", "Experimental min/max stem positions", "Simulated average stem position"], "range": [[1, 0], [25, 24], [1, 0]]}, "legend": null}
    }}
  ]}
 ]
},
{
 "width": 418, "height": 250,
 "resolve": {"scale": {"x": "independent", "y": "independent"}},
 "layer": [
  {"encoding": {
     "x": {"field": "x", "type": "quantitative", "scale": {"domain": [-0.01, 0.24], "nice": false, "zero": false}, "axis": {"values": [0, 0.05, 0.1, 0.15, 0.2], "format": ".2f", "title": "x (m)"}},
     "y": {"field": "z", "type": "quantitative", "scale": {"domain": [0.04, 0.19], "nice": false, "zero": false}, "axis": {"values": [0.05, 0.1, 0.15], "labels": false, "title": null}}
   },
   "layer": [
   {"data": {"name": "band"}, "transform": [{"filter": "datum.p == 'd'"}],
    "mark": {"type": "area", "clip": true, "opacity": 1},
    "encoding": {
     "y": {"field": "lo", "type": "quantitative", "scale": {"domain": [0.04, 0.19], "nice": false, "zero": false}, "axis": {"values": [0.05, 0.1, 0.15], "labels": false, "title": null}},
     "y2": {"field": "hi"},
     "color": {"field": "s", "type": "nominal", "scale": {"domain": ["Simulted min/max stem position", "Experimental min/max stem positions", "Simulated average stem position"], "range": ["#b3b3b3", "#d95319", "#0052c4"]}, "legend": null}
    }},
   {"data": {"name": "lines"}, "transform": [{"filter": "datum.p == 'd' && datum.k == 'avg'"}],
    "mark": {"type": "line", "clip": true, "strokeWidth": 5.5, "strokeCap": "butt"},
    "encoding": {
     "color": {"field": "s", "type": "nominal", "scale": {"domain": ["Simulted min/max stem position", "Experimental min/max stem positions", "Simulated average stem position"], "range": ["#b3b3b3", "#d95319", "#0052c4"]}, "legend": null}
    }},
   {"data": {"name": "lines"}, "transform": [{"filter": "datum.p == 'd' && datum.k != 'avg'"}],
    "mark": {"type": "line", "clip": true, "strokeWidth": 6, "strokeCap": "butt"},
    "encoding": {
     "detail": {"field": "k"},
     "color": {"field": "s", "type": "nominal", "scale": {"domain": ["Simulted min/max stem position", "Experimental min/max stem positions", "Simulated average stem position"], "range": ["#b3b3b3", "#d95319", "#0052c4"]}, "legend": null},
     "strokeDash": {"field": "s", "type": "nominal", "scale": {"domain": ["Simulted min/max stem position", "Experimental min/max stem positions", "Simulated average stem position"], "range": [[1, 0], [25, 24], [1, 0]]}, "legend": null}
    }},
   {"data": {"values": [{"t": "(d)"}]},
    "mark": {"type": "text", "align": "left", "baseline": "alphabetic", "font": "Liberation Serif", "fontSize": 27.8, "color": "#000000"},
    "encoding": {
     "x": {"datum": -0.0031, "type": "quantitative", "scale": {"domain": [-0.01, 0.24], "nice": false, "zero": false}, "axis": {"values": [0, 0.05, 0.1, 0.15, 0.2], "format": ".2f", "title": "x (m)"}},
     "y": {"datum": 0.1704, "type": "quantitative", "scale": {"domain": [0.04, 0.19], "nice": false, "zero": false}, "axis": {"values": [0.05, 0.1, 0.15], "labels": false, "title": null}},
     "text": {"field": "t"}}}
  ]},
  {"data": {"values": []}, "mark": {"type": "point"},
   "encoding": {
    "x": {"field": "x", "type": "quantitative", "scale": {"domain": [-0.01, 0.24], "nice": false, "zero": false}, "axis": {"orient": "top", "values": [0, 0.05, 0.1, 0.15, 0.2], "labels": false, "grid": false, "title": null}},
    "y": {"field": "z", "type": "quantitative", "scale": {"domain": [0.04, 0.19], "nice": false, "zero": false}, "axis": {"orient": "right", "values": [0.05, 0.1, 0.15], "labels": false, "grid": false, "title": null}}
   }}
 ]
}
]
}
